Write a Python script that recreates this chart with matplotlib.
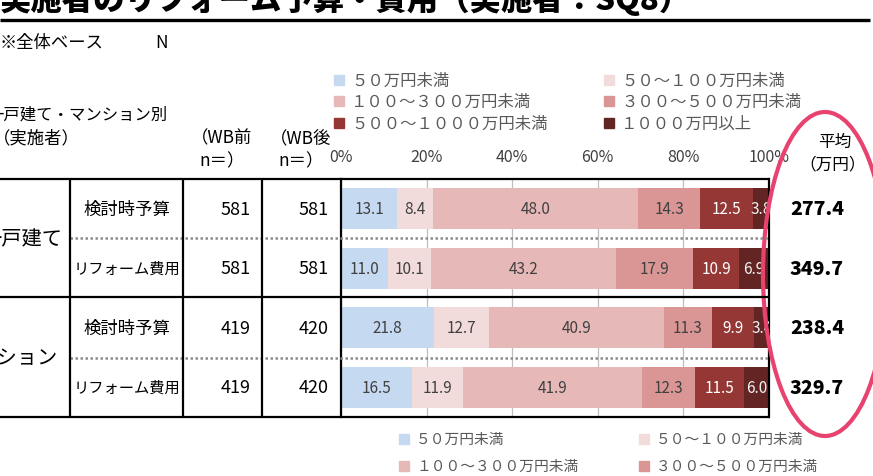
import matplotlib
matplotlib.use("Agg")
import matplotlib.pyplot as plt
import matplotlib.transforms as mtransforms
from matplotlib.patches import Ellipse
import numpy as np

plt.rcParams['font.family'] = ['Noto Sans CJK JP', 'DejaVu Sans']

# ---------------- data ----------------
categories = ["５０万円未満", "５０～１００万円未満", "１００～３００万円未満",
              "３００～５００万円未満", "５００～１０００万円未満", "１０００万円以上"]
colors = ["#C5D9F1", "#F2DCDB", "#E6B9B8", "#D99694", "#953735", "#632523"]
label_colors = ["#404040", "#404040", "#404040", "#404040", "#FFFFFF", "#F2F2F2"]

row_labels = ["検討時予算", "リフォーム費用", "検討時予算", "リフォーム費用"]
group_labels = ["一戸建て", "マンション"]
n_before = [581, 581, 419, 419]
n_after = [581, 581, 420, 420]
averages = [277.4, 349.7, 238.4, 329.7]

s_under50 = [13.1, 11.0, 21.8, 16.5]
s_50_100 = [8.4, 10.1, 12.7, 11.9]
s_100_300 = [48.0, 43.2, 40.9, 41.9]
s_300_500 = [14.3, 17.9, 11.3, 12.3]
s_500_1000 = [12.5, 10.9, 9.9, 11.5]
s_over1000 = [3.8, 6.9, 3.4, 6.0]
series = [s_under50, s_50_100, s_100_300, s_300_500, s_500_1000, s_over1000]

xticks = [0, 20, 40, 60, 80, 100]
xtick_labels = ["0%", "20%", "40%", "60%", "80%", "100%"]

title = "実施者のリフォーム予算・費用（実施者：SQ8）"

# ---------------- figure ----------------
W, H = 873, 477
fig = plt.figure(figsize=(W / 100, H / 100), dpi=100)
fig.patch.set_facecolor("white")

# plot area in pixels
AX_L, AX_R, AX_T, AX_B = 341, 769, 180, 418
bx = fig.add_axes([AX_L / W, (H - AX_B) / H, (AX_R - AX_L) / W, (AX_B - AX_T) / H])
ov = fig.add_axes([0, 0, 1, 1], zorder=5)
ov.set_xlim(0, W)
ov.set_ylim(H, 0)
ov.axis("off")
ov.patch.set_alpha(0)

def axx(px):
    return (px - AX_L) / (AX_R - AX_L)

ypos = np.arange(len(row_labels))
left = np.zeros(len(row_labels))
for vals, col, lc in zip(series, colors, label_colors):
    vals = np.array(vals)
    bx.barh(ypos, vals, left=left, height=0.69, color=col, edgecolor="none", zorder=2)
    for y, l, v in zip(ypos, left, vals):
        bx.text(l + v / 2, y, f"{v:.1f}", ha="center", va="center",
                fontsize=11, color=lc, clip_on=True, zorder=3)
    left = left + vals

bx.set_xlim(0, 100)
bx.set_ylim(len(row_labels) - 0.5, -0.5)
bx.set_yticks([])
bx.xaxis.tick_top()
bx.set_xticks(xticks)
bx.set_xticklabels(xtick_labels)
bx.tick_params(axis="x", length=0, pad=10, labelsize=11.5, labelcolor="#404040")
bx.grid(axis="x", color="#BFBFBF", lw=0.9, zorder=1)
bx.set_axisbelow(True)
for s in ["top", "bottom"]:
    bx.spines[s].set_visible(False)
for s in ["left", "right"]:
    bx.spines[s].set_color("black")
    bx.spines[s].set_linewidth(1.6)

# row-aligned text (x in axes fraction, y in data)
tr = mtransforms.blended_transform_factory(bx.transAxes, bx.transData)
for y, lab, nb, na, avg in zip(ypos, row_labels, n_before, n_after, averages):
    fs = 12.5 if lab == "検討時予算" else 11
    bx.text(axx(127), y, lab, transform=tr, ha="center", va="center",
            fontsize=fs, color="black", clip_on=False)
    bx.text(axx(251), y, str(nb), transform=tr, ha="right", va="center",
            fontsize=13, color="black", clip_on=False)
    bx.text(axx(329), y, str(na), transform=tr, ha="right", va="center",
            fontsize=13, color="black", clip_on=False)
    bx.text(axx(817), y, f"{avg:.1f}", transform=tr, ha="center", va="center",
            fontsize=14, fontweight="heavy", color="black", clip_on=False)

bx.text(axx(62), 0.5, group_labels[0], transform=tr, ha="right", va="center",
        fontsize=14.6, clip_on=False)
bx.text(axx(58), 2.5, group_labels[1], transform=tr, ha="right", va="center",
        fontsize=14.6, clip_on=False)

# ---------------- table lines ----------------
for y in [AX_T, 298, AX_B]:
    ov.plot([0, 770], [y, y], color="black", lw=1.6, solid_capstyle="butt")
for y in [238.5, 359]:
    ov.plot([70, 770], [y, y], color="#8C8C8C", lw=1.8, ls=(0, (1, 1)))
for x in [70, 183, 262]:
    ov.plot([x, x], [AX_T, AX_B], color="black", lw=1.6, solid_capstyle="butt")

# ---------------- title & header texts ----------------
ov.text(0, 10, title, fontsize=22.6, fontweight="heavy", ha="left", va="baseline")
ov.plot([0, 870], [21, 21], color="black", lw=2.4, solid_capstyle="butt")

ov.text(0, 43, "※全体ベース", fontsize=12.5, ha="left", va="center")
ov.text(155, 43, "N", fontsize=12.5, ha="left", va="center")
ov.text(168, 115, "一戸建て・マンション別", fontsize=11.8, ha="right", va="center")
ov.text(-7, 138, "（実施者）", fontsize=12.5, ha="left", va="center")
ov.text(222, 138, "（WB前", fontsize=12.5, ha="center", va="center")
ov.text(222, 161, "n＝）", fontsize=12.5, ha="center", va="center")
ov.text(301, 138, "（WB後", fontsize=12.5, ha="center", va="center")
ov.text(301, 161, "n＝）", fontsize=12.5, ha="center", va="center")
ov.text(835, 142, "平均", fontsize=12, ha="center", va="center")
ov.text(833, 165, "（万円）", fontsize=12, ha="center", va="center")

# ---------------- legends ----------------
top_rows = [81, 102, 124]
top_cols = [(339, 351), (609, 621)]
for i, (cat, col) in enumerate(zip(categories, colors)):
    r, c = i // 2, i % 2
    mx, tx = top_cols[c]
    ov.plot(mx, top_rows[r], marker="s", ms=7, color=col, ls="none")
    ov.text(tx, top_rows[r], cat, fontsize=11.8, color="#595959", ha="left", va="center")

bot_rows = [440, 467]
bot_cols = [(404, 416), (644, 656)]
for i, (cat, col) in enumerate(zip(categories[:4], colors[:4])):
    r, c = i // 2, i % 2
    mx, tx = bot_cols[c]
    ov.plot(mx, bot_rows[r], marker="s", ms=6.5, color=col, ls="none")
    ov.text(tx, bot_rows[r], cat, fontsize=10.6, color="#595959", ha="left", va="center")

# ---------------- highlight ellipse ----------------
ov.add_patch(Ellipse((825, 275), 124, 324, fill=False, ec="#E8436E", lw=3))

fig.savefig("out.png", dpi=100)
